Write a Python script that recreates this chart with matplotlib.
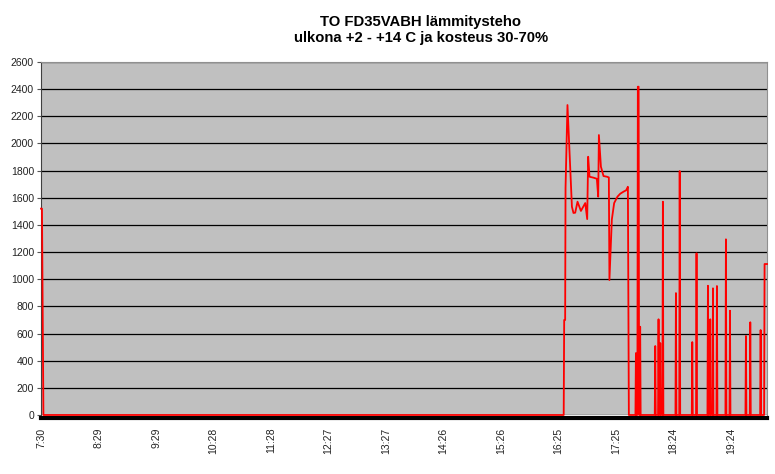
import matplotlib.pyplot as plt

plt.rcParams['font.family'] = ['Liberation Sans', 'DejaVu Sans']

# minutes after 7:30 and heating power (W)
t_start = [0, 1.0, 2.5]
p_start = [1520, 1520, 0]

t_run = [540.7, 541.2, 542.2, 542.6, 544.6, 549.2, 550.8, 552.6, 555.0, 558.5, 563.0,
         565.0, 566.0, 567.4, 571.5, 575.0, 576.4, 577.1, 579.2, 581.9, 585.4,
         587.4, 588.0, 590.5, 592.9, 596.3, 599.2, 602.6, 605.3, 607.1, 608.1]
p_run = [0, 700, 700, 1672, 2283, 1534, 1488, 1490, 1571, 1503, 1561,
         1443, 1902, 1755, 1748, 1740, 1608, 2062, 1829, 1760, 1755,
         1750, 994, 1440, 1561, 1608, 1630, 1645, 1655, 1681, 0]

t_spikes = [614.9, 615.4, 615.9, 616.9, 617.4, 618.2, 618.7, 619.3, 619.8, 620.3,
            634.9, 635.4, 635.9, 638.3, 638.8, 639.3, 640.1, 640.6, 641.1,
            642.8, 643.3, 643.8,
            656.3, 656.8, 657.3, 660.2, 660.7, 661.2,
            673.2, 673.7, 674.2, 677.6, 678.1, 678.6,
            689.4, 689.9, 690.5, 691.8, 692.3, 692.8, 694.6, 695.1, 695.6,
            698.7, 699.2, 699.7,
            708.0, 708.5, 709.0, 712.2, 712.7, 713.2,
            728.7, 729.2, 729.7, 733.2, 733.7, 734.2,
            743.9, 744.4, 744.9, 748.0, 748.5, 751.0]
p_spikes = [0, 456, 0, 0, 2418, 2418, 0, 0, 650, 0,
            0, 508, 0, 0, 705, 0, 0, 530, 0,
            0, 1571, 0,
            0, 898, 0, 0, 1797, 0,
            0, 537, 0, 0, 1191, 0,
            0, 952, 0, 0, 705, 0, 0, 933, 0,
            0, 950, 0,
            0, 1294, 0, 0, 768, 0,
            0, 582, 0, 0, 683, 0,
            0, 626, 0, 0, 1112, 1112]

t_min = t_start + t_run + t_spikes
power_w = p_start + p_run + p_spikes

tick_pos = [0, 59, 119, 178, 238, 297, 357, 416, 476, 535, 595, 654, 714]
tick_lbl = ['7:30', '8:29', '9:29', '10:28', '11:28', '12:27', '13:27',
            '14:26', '15:26', '16:25', '17:25', '18:24', '19:24']

fig = plt.figure(figsize=(7.75, 4.74), dpi=100)
ax = fig.add_axes([41/775, 59/474, 726/775, 353/474])
ax.set_facecolor('#c0c0c0')

ax.plot(t_min, power_w, color='red', lw=1.3, zorder=3, clip_on=False)

ax.set_xlim(0, 751)
ax.set_ylim(0, 2600)
ax.set_yticks(range(0, 2601, 200))
ax.yaxis.grid(True, color='black', lw=0.9)
ax.set_axisbelow(True)
ax.set_xticks(tick_pos, tick_lbl)
ax.tick_params(axis='y', labelsize=7.5, length=3, color='#555555', pad=2,
               labelcolor='#222222')
ax.tick_params(axis='x', labelsize=7.5, length=0, pad=7, labelrotation=90,
               labelcolor='#222222')

for s in ['top', 'right']:
    ax.spines[s].set_color('#909090')
ax.spines['left'].set_color('#404040')
ax.spines['bottom'].set_color('black')
ax.spines['bottom'].set_linewidth(3)
ax.spines['bottom'].set_position(('outward', 2))

fig.text(0.543, 0.968, 'TO FD35VABH lämmitysteho\nulkona +2 - +14 C ja kosteus 30-70%',
         ha='center', va='top', fontsize=10.7, fontweight='bold', linespacing=1.15)

fig.savefig('out.png', dpi=100)
